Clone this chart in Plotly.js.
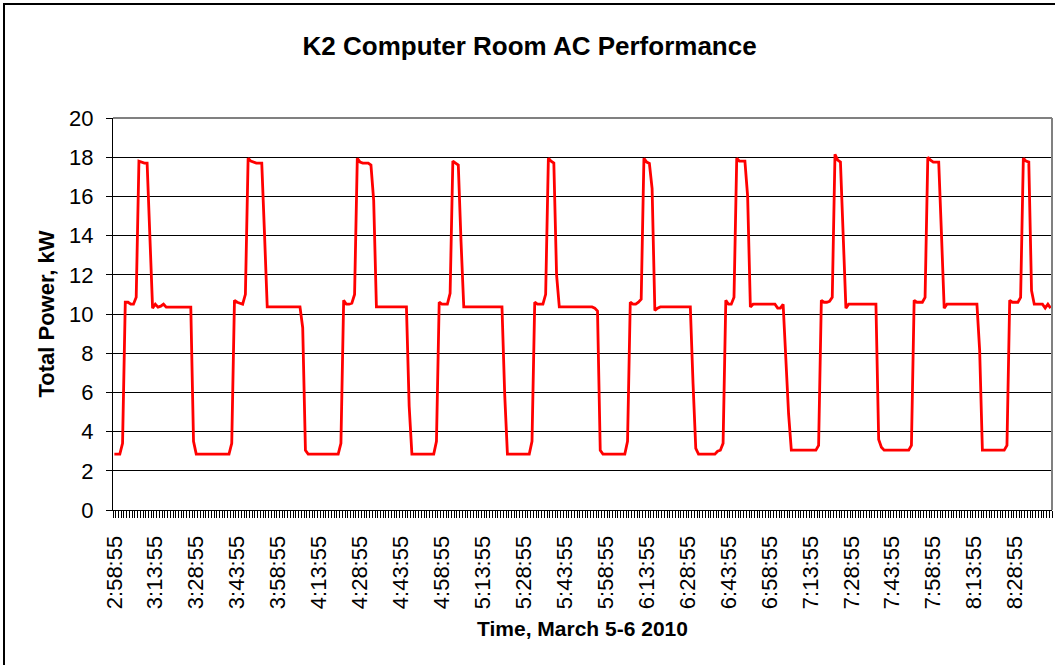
<!DOCTYPE html>
<html>
<head>
<meta charset="utf-8">
<script src="https://cdn.plot.ly/plotly-3.0.1.min.js"></script>
<style>
  html, body { margin: 0; padding: 0; background: #fff; }
  #chart { width: 1055px; height: 665px; }
</style>
</head>
<body>
<div id="chart"></div>
<script>
// ---- Data ----
const startTime = "2:58:55";      // first reading, 1-minute interval
const intervalMinutes = 1;

// Total power, kW, one reading per minute (344 readings)
const totalPowerKW = [
  // 0-9
  2.85, 2.85, 2.85, 3.4, 10.6, 10.6, 10.5, 10.5, 10.85, 17.8,
  // 10-19
  17.75, 17.7, 17.7, 14.4, 10.3, 10.5, 10.35, 10.4, 10.5, 10.35,
  // 20-29
  10.35, 10.35, 10.35, 10.35, 10.35, 10.35, 10.35, 10.35, 10.35, 3.5,
  // 30-39
  2.85, 2.85, 2.85, 2.85, 2.85, 2.85, 2.85, 2.85, 2.85, 2.85,
  // 40-49
  2.85, 2.85, 2.85, 3.4, 10.7, 10.6, 10.55, 10.5, 11.0, 17.95,
  // 50-59
  17.8, 17.75, 17.7, 17.7, 17.7, 14.1, 10.36, 10.36, 10.36, 10.36,
  // 60-69
  10.36, 10.36, 10.36, 10.36, 10.36, 10.36, 10.36, 10.36, 10.36, 9.3,
  // 70-79
  3.05, 2.85, 2.85, 2.85, 2.85, 2.85, 2.85, 2.85, 2.85, 2.85,
  // 80-89
  2.85, 2.85, 2.85, 3.4, 10.7, 10.5, 10.5, 10.55, 11.0, 17.95,
  // 90-99
  17.75, 17.7, 17.7, 17.7, 17.6, 15.8, 10.36, 10.36, 10.36, 10.36,
  // 100-109
  10.36, 10.36, 10.36, 10.36, 10.36, 10.36, 10.36, 10.36, 5.3, 2.85,
  // 110-119
  2.85, 2.85, 2.85, 2.85, 2.85, 2.85, 2.85, 2.85, 3.5, 10.6,
  // 120-129
  10.5, 10.5, 10.5, 11.05, 17.8, 17.7, 17.6, 13.7, 10.36, 10.36,
  // 130-139
  10.36, 10.36, 10.36, 10.36, 10.36, 10.36, 10.36, 10.36, 10.36, 10.36,
  // 140-149
  10.36, 10.36, 10.36, 5.9, 2.85, 2.85, 2.85, 2.85, 2.85, 2.85,
  // 150-159
  2.85, 2.85, 2.85, 3.5, 10.6, 10.5, 10.5, 10.5, 11.0, 17.95,
  // 160-169
  17.8, 17.7, 12.0, 10.36, 10.36, 10.36, 10.36, 10.36, 10.36, 10.36,
  // 170-179
  10.36, 10.36, 10.36, 10.36, 10.36, 10.36, 10.3, 10.15, 3.05, 2.85,
  // 180-189
  2.85, 2.85, 2.85, 2.85, 2.85, 2.85, 2.85, 2.85, 3.5, 10.6,
  // 190-199
  10.5, 10.5, 10.6, 10.75, 17.95, 17.75, 17.68, 16.4, 10.18, 10.3,
  // 200-209
  10.36, 10.36, 10.36, 10.36, 10.36, 10.36, 10.36, 10.36, 10.36, 10.36,
  // 210-219
  10.36, 10.36, 6.45, 3.14, 2.85, 2.85, 2.85, 2.85, 2.85, 2.85,
  // 220-229
  2.85, 3.0, 3.05, 3.4, 10.7, 10.5, 10.5, 10.85, 17.95, 17.8,
  // 230-239
  17.8, 17.8, 16.0, 10.36, 10.5, 10.5, 10.5, 10.5, 10.5, 10.5,
  // 240-249
  10.5, 10.5, 10.5, 10.3, 10.3, 10.5, 7.5, 4.9, 3.05, 3.05,
  // 250-259
  3.05, 3.05, 3.05, 3.05, 3.05, 3.05, 3.05, 3.05, 3.3, 10.7,
  // 260-269
  10.6, 10.6, 10.65, 10.85, 18.15, 17.85, 17.75, 14.1, 10.3, 10.5,
  // 270-279
  10.5, 10.5, 10.5, 10.5, 10.5, 10.5, 10.5, 10.5, 10.5, 10.5,
  // 280-289
  3.6, 3.2, 3.05, 3.05, 3.05, 3.05, 3.05, 3.05, 3.05, 3.05,
  // 290-299
  3.05, 3.05, 3.3, 10.7, 10.6, 10.6, 10.6, 10.85, 18.0, 17.85,
  // 300-309
  17.75, 17.75, 17.75, 14.1, 10.3, 10.5, 10.5, 10.5, 10.5, 10.5,
  // 310-319
  10.5, 10.5, 10.5, 10.5, 10.5, 10.5, 10.5, 8.14, 3.05, 3.05,
  // 320-329
  3.05, 3.05, 3.05, 3.05, 3.05, 3.05, 3.05, 3.3, 10.7, 10.6,
  // 330-339
  10.6, 10.6, 10.85, 17.95, 17.8, 17.75, 11.2, 10.5, 10.5, 10.5,
  // 340-343
  10.5, 10.3, 10.5, 10.3
];

// Labelled categories on the time axis
const tickLabels = [
  "2:58:55", "3:13:55", "3:28:55", "3:43:55", "3:58:55", "4:13:55",
  "4:28:55", "4:43:55", "4:58:55", "5:13:55", "5:28:55", "5:43:55",
  "5:58:55", "6:13:55", "6:28:55", "6:43:55", "6:58:55", "7:13:55",
  "7:28:55", "7:43:55", "7:58:55", "8:13:55", "8:28:55"
];

// Time stamps of the readings (category labels)
function toSec(s) { const p = s.split(":").map(Number); return p[0]*3600 + p[1]*60 + p[2]; }
function fmt(sec) {
  const h = Math.floor(sec / 3600), m = Math.floor((sec % 3600) / 60), s = sec % 60;
  return h + ":" + String(m).padStart(2, "0") + ":" + String(s).padStart(2, "0");
}
const t0 = toSec(startTime);
const times = totalPowerKW.map((_, i) => fmt(t0 + i * intervalMinutes * 60));

const FONT = "Liberation Sans, Arial, sans-serif";
const nCat = times.length;

// plot area in px: left 113, right 1052, top 118, bottom 510
const L = 113, R = 1052, T = 118, B = 510, W = 1055, H = 665;
const pw = R - L, ph = B - T;
const px2x = x => (x - L) / pw;
const px2y = y => (B - y) / ph;

const trace = {
  type: "scatter",
  mode: "lines",
  x: times,
  y: totalPowerKW,
  line: { color: "#FF0000", width: 2.8 },
  hoverinfo: "x+y",
  showlegend: false
};

// empty helper trace so the category tick-mark axis (x2) is drawn
const tickAxisHolder = {
  type: "scatter", mode: "lines", x: [], y: [],
  xaxis: "x2", yaxis: "y", showlegend: false, hoverinfo: "skip"
};

const layout = {
  width: W, height: H,
  margin: { l: L, r: W - R, t: T, b: H - B, pad: 0 },
  paper_bgcolor: "#ffffff",
  plot_bgcolor: "#ffffff",
  font: { family: FONT, color: "#000", size: 20 },
  title: {
    text: "K2 Computer Room AC Performance",
    font: { family: FONT, size: 26, weight: "bold", color: "#000" },
    x: 0.502, xref: "container", xanchor: "center",
    y: 1 - 46 / H, yref: "container", yanchor: "middle"
  },
  xaxis: {
    type: "category",
    range: [-0.5, nCat - 0.5],
    tickmode: "array",
    tickvals: tickLabels,
    ticktext: tickLabels,
    tickangle: -90,
    ticks: "",
    ticklabelstandoff: 16,
    tickfont: { family: FONT, size: 22, color: "#000" },
    showgrid: false,
    zeroline: false,
    showline: true,
    linecolor: "#000",
    linewidth: 1,
    automargin: false,
    title: {
      text: "Time, March 5-6 2010",
      font: { family: FONT, size: 21, weight: "bold", color: "#000" },
      standoff: 13
    }
  },
  xaxis2: {
    overlaying: "x",
    anchor: "y",
    side: "bottom",
    type: "linear",
    range: [-0.5, nCat - 0.5],
    tickmode: "linear",
    tick0: -0.5,
    dtick: 1,
    ticks: "outside",
    ticklen: 7,
    tickwidth: 1,
    tickcolor: "#000",
    showticklabels: false,
    showgrid: false,
    zeroline: false,
    showline: false,
    automargin: false
  },
  yaxis: {
    range: [0, 20],
    tickmode: "linear",
    tick0: 0,
    dtick: 2,
    ticks: "outside",
    ticklen: 6,
    tickwidth: 1,
    tickcolor: "#000",
    ticklabelstandoff: 8,
    tickfont: { family: FONT, size: 22, color: "#000" },
    showgrid: true,
    gridcolor: "#000",
    gridwidth: 1,
    zeroline: false,
    showline: true,
    linecolor: "#000",
    linewidth: 1,
    automargin: false,
    title: {
      text: "Total Power, kW",
      font: { family: FONT, size: 22, weight: "bold", color: "#000" },
      standoff: 8
    }
  },
  shapes: [
    // grey top and right edges of the plot area
    { type: "line", xref: "paper", yref: "paper", x0: 0, x1: 1, y0: 1, y1: 1,
      line: { color: "#808080", width: 2 }, layer: "above" },
    { type: "line", xref: "paper", yref: "paper", x0: 1, x1: 1, y0: 0, y1: 1,
      line: { color: "#808080", width: 2 }, layer: "above" },
    // outer chart frame
    { type: "rect", xref: "paper", yref: "paper",
      x0: px2x(4), x1: px2x(1062), y0: px2y(690), y1: px2y(4),
      line: { color: "#000", width: 2 }, fillcolor: "rgba(0,0,0,0)", layer: "above" }
  ]
};

Plotly.newPlot("chart", [trace, tickAxisHolder], layout, { staticPlot: true, displayModeBar: false });
</script>
</body>
</html>
